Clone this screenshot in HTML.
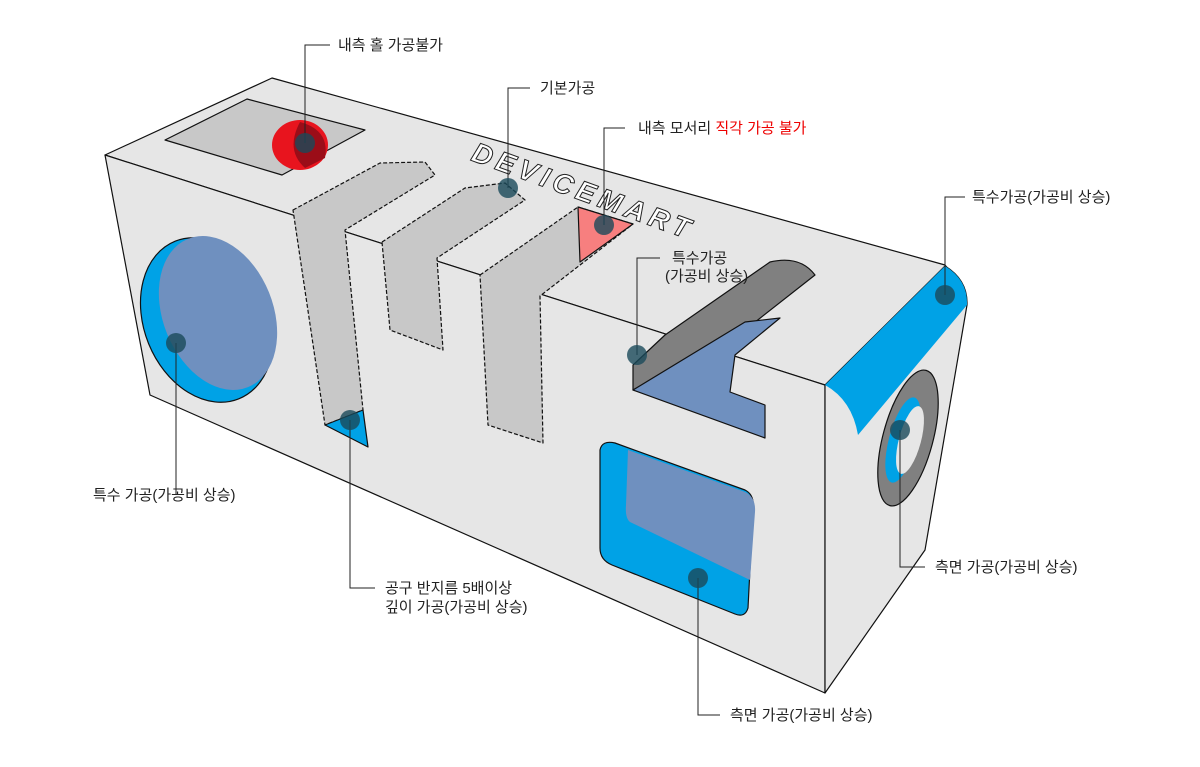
<!DOCTYPE html>
<html><head><meta charset="utf-8"><style>
html,body{margin:0;padding:0;background:#fff;}
svg{display:block}
text{font-family:"Liberation Sans","Noto Sans CJK KR",sans-serif;font-size:15px;fill:#222}
</style></head><body>
<svg width="1200" height="767" viewBox="0 0 1200 767" xmlns="http://www.w3.org/2000/svg">
<g stroke="#111" stroke-width="1.2" stroke-linejoin="round">
<polygon points="105,155 272,78 945,265 965,290 825,385" fill="#e6e6e6"/>
<polygon points="105,155 825,385 825,693 150,395" fill="#e6e6e6"/>
<path d="M825,385 L945,266 Q968,280 967,305 L925,550 L825,693 Z" fill="#e6e6e6"/>
<path d="M825,385 L945,266 Q968,280 967,305 L858,435 Q852,400 825,385 Z" fill="#00a2e6" stroke="none"/>
<polygon points="165,140 247,99 365,130 282,175" fill="#c8c8c8"/>
<ellipse cx="300" cy="145" rx="28" ry="25" fill="#e8141e" stroke="none"/>
<path d="M300,122 Q330,130 325,158 L305,168 Q285,150 300,122 Z" fill="#9b0d18" stroke="none"/>
<ellipse cx="207" cy="320" rx="63" ry="85" transform="rotate(-22 207 320)" fill="#00a2e6"/>
<ellipse cx="218" cy="313" rx="55" ry="80" transform="rotate(-22 218 313)" fill="#6f90bf" stroke="none"/>
<polygon points="293,210 380,163 425,162 435,175 345,230 363,410 325,425" fill="#c8c8c8" stroke-dasharray="4 2"/>
<polygon points="325,425 363,410 368,447" fill="#00a2e6"/>
<polygon points="382,242 465,188 505,183 525,200 437,258 443,350 390,330" fill="#c8c8c8" stroke-dasharray="4 2"/>
<polygon points="480,275 578,207 633,224 540,296 543,443 488,425" fill="#c8c8c8" stroke-dasharray="4 2"/>
<polygon points="578,207 633,224 580,262" fill="#f77f7f"/>
<path d="M665,335 L770,262 Q800,255 815,275 L745,330 L633,390 L633,365 Z" fill="#808080"/>
<polygon points="633,390 745,322 780,318 735,355 730,392 765,405 765,438" fill="#6f90bf"/>
<path d="M600,450 Q602,440 615,443 L745,490 Q755,495 753,510 L748,608 Q745,618 735,614 L612,565 Q600,560 600,548 Z" fill="#00a2e6"/>
<path d="M628,450 L745,492 Q756,497 755,512 L750,580 L630,522 Q625,518 626,505 Z" fill="#6f90bf" stroke="none"/>
<ellipse cx="908" cy="438" rx="25" ry="70" transform="rotate(15 908 438)" fill="#808080"/>
<ellipse cx="903" cy="440" rx="14" ry="44" transform="rotate(15 903 440)" fill="#00a2e6" stroke="none"/>
<ellipse cx="910" cy="440" rx="11" ry="35" transform="rotate(15 910 440)" fill="#e6e6e6" stroke="none"/>
</g>
<text x="470" y="160" transform="rotate(20 470 160)" font-style="italic" font-weight="bold" stroke="#222" stroke-width="1" style="font-size:28px;fill:#fff;letter-spacing:5px">DEVICEMART</text>
<g stroke="#222" stroke-width="1" fill="none">
<polyline points="305,143 305,45 330,45"/>
<polyline points="508,188 508,88 530,88"/>
<polyline points="604,225 604,128 625,128"/>
<polyline points="637,355 637,258 660,258"/>
<polyline points="945,295 945,197 965,197"/>
<polyline points="176,343 176,495"/>
<polyline points="350,420 350,588 375,588"/>
<polyline points="900,430 900,567 925,567"/>
<polyline points="698,578 698,715 720,715"/>
</g>
<g fill="#1a4a5a" fill-opacity="0.8">
<circle cx="305" cy="143" r="10"/><circle cx="508" cy="188" r="10"/><circle cx="604" cy="225" r="10"/>
<circle cx="637" cy="355" r="10"/><circle cx="945" cy="295" r="10"/><circle cx="176" cy="343" r="10"/>
<circle cx="350" cy="420" r="10"/><circle cx="900" cy="430" r="10"/><circle cx="698" cy="578" r="10"/>
</g>
<text x="338" y="50">내측 홀 가공불가</text>
<text x="540" y="93">기본가공</text>
<text x="638" y="133">내측 모서리 <tspan fill="#e00">직각 가공 불가</tspan></text>
<text x="672" y="263">특수가공</text>
<text x="665" y="281">(가공비 상승)</text>
<text x="972" y="202">특수가공(가공비 상승)</text>
<text x="93" y="500">특수 가공(가공비 상승)</text>
<text x="385" y="593">공구 반지름 5배이상</text>
<text x="385" y="612">깊이 가공(가공비 상승)</text>
<text x="935" y="572">측면 가공(가공비 상승)</text>
<text x="730" y="720">측면 가공(가공비 상승)</text>
</svg>
</body></html>
